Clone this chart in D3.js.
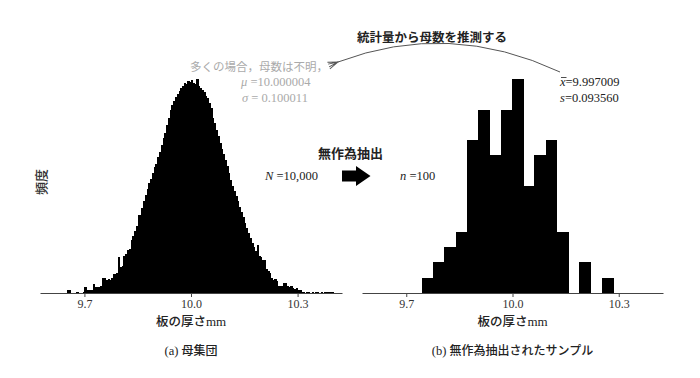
<!DOCTYPE html>
<html>
<head>
<meta charset="utf-8">
<script src="https://cdn.jsdelivr.net/npm/d3@7"></script>
<style>
  body { margin: 0; background: #fff; }
  svg { display: block; }
</style>
</head>
<body>
<div id="app"></div>
<script>
// population histogram (N = 10,000), bins of 0.005 mm
const popStart = 9.65,
  popBin = 0.005;
const popCounts = [
  3, 3, 0, 0, 0, 1, 1, 0, 0, 1,
  6, 3, 3, 3, 3, 8, 6, 6, 6, 7,
  14, 14, 12, 13, 12, 14, 18, 18, 19, 34,
  24, 25, 35, 36, 40, 41, 50, 53, 58, 63,
  73, 73, 79, 86, 92, 97, 103, 107, 112, 118,
  121, 127, 132, 138, 145, 150, 157, 164, 171, 176,
  179, 183, 186, 189, 192, 193, 196, 195, 198, 197,
  199, 196, 195, 200, 193, 192, 190, 188, 184, 182,
  178, 173, 164, 159, 152, 147, 140, 135, 130, 124,
  119, 112, 106, 100, 95, 91, 86, 80, 76, 71,
  65, 61, 56, 51, 47, 43, 39, 45, 35, 34,
  31, 31, 22, 21, 19, 14, 12, 13, 11, 7,
  7, 7, 9, 9, 7, 6, 7, 5, 4, 5,
  3, 3, 1, 1, 0, 1, 1, 0, 1, 0,
  1, 1, 0, 1, 0, 1, 1, 1, 1, 1
];

// random sample (n = 100)
const smpStart = 9.744,
  smpBin = 0.0318;
const smpCounts = [1, 2, 3, 4, 10, 12, 9, 12, 14, 7, 9, 10, 4, 0, 2, 0, 1];

const tickVals = [9.7, 10.0, 10.3];
const xDomain = [9.575, 10.425];

const SERIF = "'Liberation Serif', 'Times New Roman', 'DejaVu Serif', serif";
const JP = "'Noto Sans CJK JP', 'Noto Sans', sans-serif";

const width = 700,
  height = 378,
  baseY = 293,
  topY = 79;

const svg = d3
  .select("#app")
  .append("svg")
  .attr("width", width)
  .attr("height", height)
  .attr("viewBox", [0, 0, width, height]);

const panels = [
  { counts: popCounts, start: popStart, bin: popBin, range: [40, 342], yMax: 200, caption: "(a) ", captionJp: "母集団" },
  { counts: smpCounts, start: smpStart, bin: smpBin, range: [362, 663], yMax: 14, caption: "(b) ", captionJp: "無作為抽出されたサンプル" },
];

panels.forEach((p) => {
  const x = d3.scaleLinear().domain(xDomain).range(p.range);
  const y = d3.scaleLinear().domain([0, p.yMax]).range([baseY, topY]);
  const bins = p.counts.map((c, i) => ({ x0: p.start + i * p.bin, x1: p.start + (i + 1) * p.bin, n: c }));

  svg
    .append("g")
    .attr("fill", "#000")
    .attr("shape-rendering", "crispEdges")
    .selectAll("rect")
    .data(bins.filter((d) => d.n > 0))
    .join("rect")
    .attr("x", (d) => x(d.x0))
    .attr("width", (d) => x(d.x1) - x(d.x0) + 0.4)
    .attr("y", (d) => y(d.n))
    .attr("height", (d) => y(0) - y(d.n));

  const axis = svg
    .append("g")
    .attr("transform", `translate(0,${baseY})`)
    .call(d3.axisBottom(x).tickValues(tickVals).tickFormat(d3.format(".1f")).tickSizeInner(4).tickSizeOuter(0).tickPadding(2));
  axis.attr("font-family", SERIF).attr("font-size", 12);
  axis.select(".domain").attr("stroke", "#444");
  axis.selectAll(".tick line").attr("stroke", "#444");
  axis.selectAll(".tick text").attr("fill", "#333");

  const cx = x(10.0);
  const t = svg
    .append("text")
    .attr("x", cx)
    .attr("y", 326)
    .attr("text-anchor", "middle")
    .attr("fill", "#222");
  t.append("tspan").attr("font-family", JP).attr("font-size", 12.5).attr("font-weight", 500).text("板の厚さ");
  t.append("tspan").attr("font-family", SERIF).attr("font-size", 13).text("mm");

  const c = svg
    .append("text")
    .attr("x", cx)
    .attr("y", 355)
    .attr("text-anchor", "middle")
    .attr("fill", "#222");
  c.append("tspan").attr("font-family", SERIF).attr("font-size", 12.5).text(p.caption);
  c.append("tspan").attr("font-family", JP).attr("font-size", 12).attr("font-weight", 500).text(p.captionJp);
});

// y axis label
svg
  .append("text")
  .attr("font-family", JP)
  .attr("transform", "translate(46,182) rotate(-90)")
  .attr("text-anchor", "middle")
  .attr("font-size", 13)
  .attr("font-weight", 500)
  .attr("fill", "#333")
  .text("頻度");

// population parameters (grey)
svg
  .append("text")
  .attr("font-family", JP)
  .attr("x", 190)
  .attr("y", 71)
  .attr("font-size", 11.5)
  .attr("fill", "#aaa")
  .text("多くの場合，母数は不明，");

const mu = svg.append("text").attr("font-family", SERIF).attr("x", 241).attr("y", 86).attr("font-size", 12.5).attr("fill", "#aaa");
mu.append("tspan").attr("font-style", "italic").text("μ");
mu.append("tspan").text(" =10.000004");
const sg = svg.append("text").attr("font-family", SERIF).attr("x", 242).attr("y", 102).attr("font-size", 12.5).attr("fill", "#aaa");
sg.append("tspan").attr("font-style", "italic").text("σ");
sg.append("tspan").text(" = 0.100011");

// sample statistics
const xb = svg.append("text").attr("font-family", SERIF).attr("x", 560).attr("y", 86).attr("font-size", 12.5).attr("fill", "#222");
xb.append("tspan").attr("font-style", "italic").text("x");
xb.append("tspan").text("=9.997009");
// bar over the x
svg.append("line").attr("x1", 561).attr("x2", 566.5).attr("y1", 77.5).attr("y2", 77.5).attr("stroke", "#222").attr("stroke-width", 0.8);
const sd = svg.append("text").attr("font-family", SERIF).attr("x", 560).attr("y", 102).attr("font-size", 12.5).attr("fill", "#222");
sd.append("tspan").attr("font-style", "italic").text("s");
sd.append("tspan").text("=0.093560");

// N and n
const bigN = svg.append("text").attr("font-family", SERIF).attr("x", 265).attr("y", 180).attr("font-size", 12.5).attr("fill", "#222");
bigN.append("tspan").attr("font-style", "italic").text("N");
bigN.append("tspan").text(" =10,000");
const smallN = svg.append("text").attr("font-family", SERIF).attr("x", 400).attr("y", 180).attr("font-size", 12.5).attr("fill", "#222");
smallN.append("tspan").attr("font-style", "italic").text("n");
smallN.append("tspan").text(" =100");

// sampling arrow
svg
  .append("text")
  .attr("font-family", JP)
  .attr("x", 318)
  .attr("y", 158)
  .attr("font-size", 13)
  .attr("font-weight", 700)
  .attr("fill", "#222")
  .text("無作為抽出");
svg
  .append("path")
  .attr("d", "M342,170.5H356V166L370.5,176L356,186V181.5H342Z")
  .attr("fill", "#000");

// inference curve
svg
  .append("text")
  .attr("font-family", JP)
  .attr("x", 357)
  .attr("y", 42)
  .attr("font-size", 12.5)
  .attr("font-weight", 700)
  .attr("fill", "#222")
  .text("統計量から母数を推測する");

svg
  .append("defs")
  .append("marker")
  .attr("id", "head")
  .attr("viewBox", "-1 -5 12 10")
  .attr("refX", 0)
  .attr("refY", 0)
  .attr("markerWidth", 12)
  .attr("markerHeight", 10)
  .attr("markerUnits", "userSpaceOnUse")
  .attr("orient", "auto-start-reverse")
  .append("path")
  .attr("d", "M10,-3.5L0,0L10,3.5M10,-1.5L0,0L10,1.5")
  .attr("fill", "none")
  .attr("stroke", "#555")
  .attr("stroke-width", 0.9);

svg
  .append("path")
  .attr("d", "M338,62Q449,20 560,72")
  .attr("fill", "none")
  .attr("stroke", "#555")
  .attr("stroke-width", 1)
  .attr("marker-start", "url(#head)");
</script>
</body>
</html>
